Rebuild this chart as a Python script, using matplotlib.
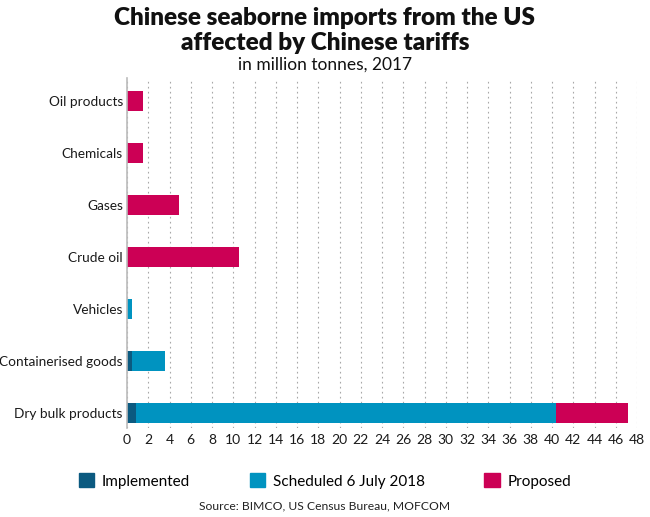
import matplotlib
matplotlib.use("Agg")
import matplotlib.pyplot as plt
from matplotlib.patches import Patch

categories = ["Oil products", "Chemicals", "Gases", "Crude oil", "Vehicles",
              "Containerised goods", "Dry bulk products"]
implemented = [0, 0, 0, 0, 0, 0.45, 0.8]
scheduled = [0, 0, 0, 0, 0.5, 3.1, 39.6]
proposed = [1.5, 1.5, 4.85, 10.55, 0, 0, 6.75]
xticks = list(range(0, 49, 2))

c_impl = "#0b5a80"
c_sched = "#0093c0"
c_prop = "#cc0055"

plt.rcParams['font.family'] = ['Lato', 'DejaVu Sans']

fig = plt.figure(figsize=(6.5, 5.17), dpi=100)
ax = fig.add_axes([127/650, 1-428/517, (637-127)/650, (428-78)/517])

y = list(range(len(categories)))
h = 0.37
ax.barh(y, implemented, height=h, color=c_impl)
ax.barh(y, scheduled, height=h, left=implemented, color=c_sched)
left2 = [a + b for a, b in zip(implemented, scheduled)]
ax.barh(y, proposed, height=h, left=left2, color=c_prop)

ax.set_ylim(len(categories) - 1 + 0.29, -0.44)
ax.set_xlim(0, 48)
ax.set_yticks(y)
ax.set_yticklabels(categories, fontsize=9.8, color="#1a1a1a")
ax.set_xticks(xticks)
ax.set_xticklabels([str(t) for t in xticks], fontsize=10, color="#1a1a1a")
ax.tick_params(axis='y', length=0, pad=3)
ax.tick_params(axis='x', length=0, pad=4)
ax.xaxis.grid(True, linestyle=(0, (1.5, 3)), color="#a8a8a8", linewidth=0.8)
ax.set_axisbelow(True)
for s in ["top", "right", "bottom"]:
    ax.spines[s].set_visible(False)
ax.spines["left"].set_color("#bbbbbb")
ax.spines["left"].set_linewidth(1.2)

fig.text(0.5, 1-18/517, "Chinese seaborne imports from the US", ha="center", va="center",
         fontsize=17.5, fontweight="heavy", color="#111111")
fig.text(0.5, 1-43/517, "affected by Chinese tariffs", ha="center", va="center",
         fontsize=17.5, fontweight="heavy", color="#111111")
fig.text(0.5, 1-65/517, "in million tonnes, 2017", ha="center", va="center",
         fontsize=12.5, color="#111111")

handles = [Patch(color=c_impl, label="Implemented"),
           Patch(color=c_sched, label="Scheduled 6 July 2018"),
           Patch(color=c_prop, label="Proposed")]
fig.legend(handles=handles, loc="center", bbox_to_anchor=(0.5, 1-481/517), ncol=3,
           frameon=False, fontsize=11, handlelength=1.0, handleheight=1.0,
           columnspacing=3.9, handletextpad=0.5)
fig.text(0.5, 1-506/517, "Source: BIMCO, US Census Bureau, MOFCOM", ha="center",
         va="center", fontsize=8.7, color="#222222")

fig.savefig("out.png", dpi=100)
